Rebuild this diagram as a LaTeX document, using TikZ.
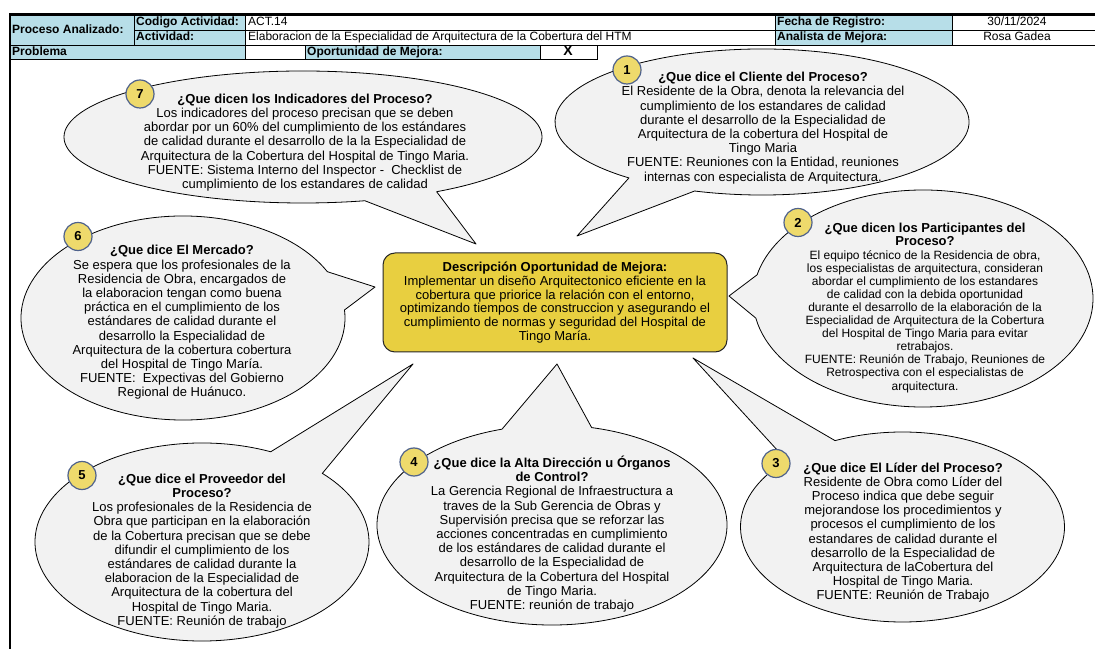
\documentclass[tikz,border=0pt]{standalone}
\usepackage{fontspec}
\setmainfont{Liberation Sans}
\usepackage{xcolor}
\usepackage{tikz}
\usetikzlibrary{positioning, calc, shapes}
\definecolor{celeste}{RGB}{183, 222, 232}
\definecolor{grisglobo}{RGB}{242, 242, 242}
\definecolor{amarillo}{RGB}{232, 207, 64}
\definecolor{amarillonum}{RGB}{238, 218, 108}
\definecolor{azulnum}{RGB}{79, 98, 140}

\tikzset{
  celda/.style={draw=black, line width=0.6pt},
  globo/.style={draw=black, line width=0.8pt, fill=grisglobo, line join=round},
  numero/.style={circle, draw=azulnum, line width=1.2pt, fill=amarillonum, minimum size=28pt, inner sep=0pt, font=\fontsize{13}{13}\selectfont\bfseries},
  texto/.style={align=center, inner sep=0pt, font=\fontsize{13}{14.2}\selectfont},
  textochico/.style={align=center, inner sep=0pt, font=\fontsize{12}{13.1}\selectfont},
  cab/.style={anchor=west, inner sep=0pt, text height=8.7pt, text depth=2.5pt, font=\fontsize{12}{12}\selectfont},
  caja/.style={draw=black!85, line width=1pt, rounded corners=12pt, fill=amarillo, minimum width=344pt, minimum height=99pt, align=center, inner sep=0pt, font=\fontsize{13}{13.8}\selectfont}
}
\newcommand{\titulo}[1]{\textbf{\fontsize{13}{13.1}\selectfont #1}}

\begin{document}
\begin{tikzpicture}[x=1pt, y=1pt]
            \clip (0,0) rectangle (1095,648);
            \fill[white] (0,0) rectangle (1095,648);

            % Cabecera
            \draw[celda, fill=celeste] (10,603) rectangle (134,633);
            \draw[celda, fill=celeste] (134,618) rectangle (245,633);
            \draw[celda, fill=celeste] (134,603) rectangle (245,618);
            \draw[celda] (245,618) rectangle (775,633);
            \draw[celda] (245,603) rectangle (775,618);
            \draw[celda, fill=celeste] (775,618) rectangle (952,633);
            \draw[celda, fill=celeste] (775,603) rectangle (952,618);
            \draw[celda] (952,618) rectangle (1100,633);
            \draw[celda] (952,603) rectangle (1100,618);
            \draw[celda, fill=celeste] (10,588.5) rectangle (245,603);
            \draw[celda] (245,588.5) rectangle (305,603);
            \draw[celda, fill=celeste] (305,588.5) rectangle (540,603);
            \draw[celda] (540,588.5) rectangle (597,603);
            \draw[line width=3pt] (10,633) -- (1100,633);
            \draw[line width=1.6pt] (10,634.5) -- (10,-5);

            \node[cab] (proc) at (12,618) {\bfseries Proceso Analizado:};
            \node[cab] (cod) at (136,625.5) {\bfseries Codigo Actividad:};
            \node[cab] (act) at (136,610.5) {\bfseries Actividad:};
            \node[cab] (codv) at (248,625.5) {ACT.14};
            \node[cab] (actv) at (248,610.5) {Elaboracion de la Especialidad de Arquitectura de la Cobertura del HTM};
            \node[cab] (fecha) at (777,625.5) {\bfseries Fecha de Registro:};
            \node[cab] (anal) at (777,610.5) {\bfseries Analista de Mejora:};
            \node[cab, anchor=center] (fechav) at (1017,625.5) {30/11/2024};
            \node[cab, anchor=center] (analv) at (1017,610.5) {Rosa Gadea};
            \node[cab] (prob) at (12,595.75) {\bfseries Problema};
            \node[cab] (opor) at (307,595.75) {\bfseries Oportunidad de Mejora:};
            \node[cab, anchor=center, font=\fontsize{14}{14}\selectfont] (marca) at (568,595.75) {\bfseries X};

            % Puntas de los globos
            \coordinate (c7) at (303,511);   \coordinate (p7) at (476,404);
            \coordinate (c1) at (762,526);   \coordinate (p1) at (577,412);
            \coordinate (c2) at (923,349.5); \coordinate (p2) at (729,352);
            \coordinate (c6) at (183,330);   \coordinate (p6) at (375,361);
            \coordinate (c5) at (202,106);   \coordinate (p5) at (413,284);
            \coordinate (c4) at (552,123);   \coordinate (p4) at (557,284);
            \coordinate (c3) at (902.5,121); \coordinate (p3) at (693,290);

            % Globos
            \draw[globo] ($(c7)+(-56:239pt and 66pt)$) arc[start angle=-56, end angle=285, x radius=239pt, y radius=66pt] -- (p7) -- cycle;
            \draw[globo] ($(c1)+(-109:207pt and 73pt)$) arc[start angle=-109, end angle=230, x radius=207pt, y radius=73pt] -- (p1) -- cycle;
            \draw[globo] ($(c2)+(190.4:170pt and 108.5pt)$) arc[start angle=190.4, end angle=527.4, x radius=170pt, y radius=108.5pt] -- (p2) -- cycle;
            \draw[globo] ($(c6)+(27:162pt and 102pt)$) arc[start angle=27, end angle=364.5, x radius=162pt, y radius=102pt] -- (p6) -- cycle;
            \draw[globo] ($(c5)+(65.7:167pt and 99pt)$) arc[start angle=65.7, end angle=403.9, x radius=167pt, y radius=99pt] -- (p5) -- cycle;
            \draw[globo] ($(c4)+(106.6:175pt and 100pt)$) arc[start angle=106.6, end angle=436.9, x radius=175pt, y radius=100pt] -- (p4) -- cycle;
            \draw[globo] ($(c3)+(135.6:162pt and 95pt)$) arc[start angle=135.6, end angle=474.6, x radius=162pt, y radius=95pt] -- (p3) -- cycle;

            % Textos
            \node[texto] (t7) at (305,505.5) {\textbf{¿Que dicen los Indicadores del Proceso?}\\
              Los indicadores del proceso precisan que se deben\\
              abordar por un 60\% del cumplimiento de los estándares\\
              de calidad durante el desarrollo de la la Especialidad de\\
              Arquitectura de la Cobertura del Hospital de Tingo Maria.\\
              FUENTE: Sistema Interno del Inspector -\ \ Checklist de\\
              cumplimiento de los estandares de calidad};
            \node[texto] (t1) at (763,520) {\textbf{¿Que dice el Cliente del Proceso?}\\
              El Residente de la Obra, denota la relevancia del\\
              cumplimiento de los estandares de calidad\\
              durante el desarrollo de la Especialidad de\\
              Arquitectura de la cobertura del Hospital de\\
              Tingo Maria\\
              FUENTE: Reuniones con la Entidad, reuniones\\
              internas con especialista de Arquitectura.};
            \node[textochico] (t2) at (925,340) {\titulo{¿Que dicen los Participantes del}\\
              \titulo{Proceso?}\\
              El equipo técnico de la Residencia de obra,\\
              los especialistas de arquitectura, consideran\\
              abordar el cumplimiento de los estandares\\
              de calidad con la debida oportunidad\\
              durante el desarrollo de la elaboración de la\\
              Especialidad de Arquitectura de la Cobertura\\
              del Hospital de Tingo Maria para evitar\\
              retrabajos.\\
              FUENTE: Reunión de Trabajo, Reuniones de\\
              Retrospectiva con el especialistas de\\
              arquitectura.};
            \node[texto] (t6) at (182,325.5) {\textbf{¿Que dice El Mercado?}\\
              Se espera que los profesionales de la\\
              Residencia de Obra, encargados de\\
              la elaboracion tengan como buena\\
              práctica en el cumplimiento de los\\
              estándares de calidad durante el\\
              desarrollo la Especialidad de\\
              Arquitectura de la cobertura cobertura\\
              del Hospital de Tingo María.\\
              FUENTE:\ \ Expectivas del Gobierno\\
              Regional de Huánuco.};
            \node[texto] (t5) at (202,97) {\textbf{¿Que dice el Proveedor del}\\
              \textbf{Proceso?}\\
              Los profesionales de la Residencia de\\
              Obra que participan en la elaboración\\
              de la Cobertura precisan que se debe\\
              difundir el cumplimiento de los\\
              estándares de calidad durante la\\
              elaboracion de la Especialidad de\\
              Arquitectura de la cobertura del\\
              Hospital de Tingo Maria.\\
              FUENTE: Reunión de trabajo};
            \node[texto] (t4) at (552,114) {\textbf{¿Que dice la Alta Dirección u Órganos}\\
              \textbf{de Control?}\\
              La Gerencia Regional de Infraestructura a\\
              traves de la Sub Gerencia de Obras y\\
              Supervisión precisa que se reforzar las\\
              acciones concentradas en cumplimiento\\
              de los estándares de calidad durante el\\
              desarrollo de la Especialidad de\\
              Arquitectura de la Cobertura del Hospital\\
              de Tingo Maria.\\
              FUENTE: reunión de trabajo};
            \node[texto] (t3) at (903,115.5) {\textbf{¿Que dice El Líder del Proceso?}\\
              Residente de Obra como Líder del\\
              Proceso indica que debe seguir\\
              mejorandose los procedimientos y\\
              procesos el cumplimiento de los\\
              estandares de calidad durante el\\
              desarrollo de la Especialidad de\\
              Arquitectura de laCobertura del\\
              Hospital de Tingo Maria.\\
              FUENTE: Reunión de Trabajo};

            % Numeros
            \node[numero] (n7) at (140,554) {7};
            \node[numero] (n1) at (627,578) {1};
            \node[numero] (n2) at (798,425.5) {2};
            \node[numero] (n6) at (78,411.5) {6};
            \node[numero] (n5) at (82,172.5) {5};
            \node[numero] (n4) at (414,186) {4};
            \node[numero] (n3) at (776,184.5) {3};

            % Caja central
            \node[caja] (desc) at (555,345.5) {\textbf{Descripción Oportunidad de Mejora:}\\
              Implementar un diseño Arquitectonico eficiente en la\\
              cobertura que priorice la relación con el entorno,\\
              optimizando tiempos de construccion y asegurando el\\
              cumplimiento de normas y seguridad del Hospital de\\
              Tingo María.};
        \end{tikzpicture}
\end{document}
